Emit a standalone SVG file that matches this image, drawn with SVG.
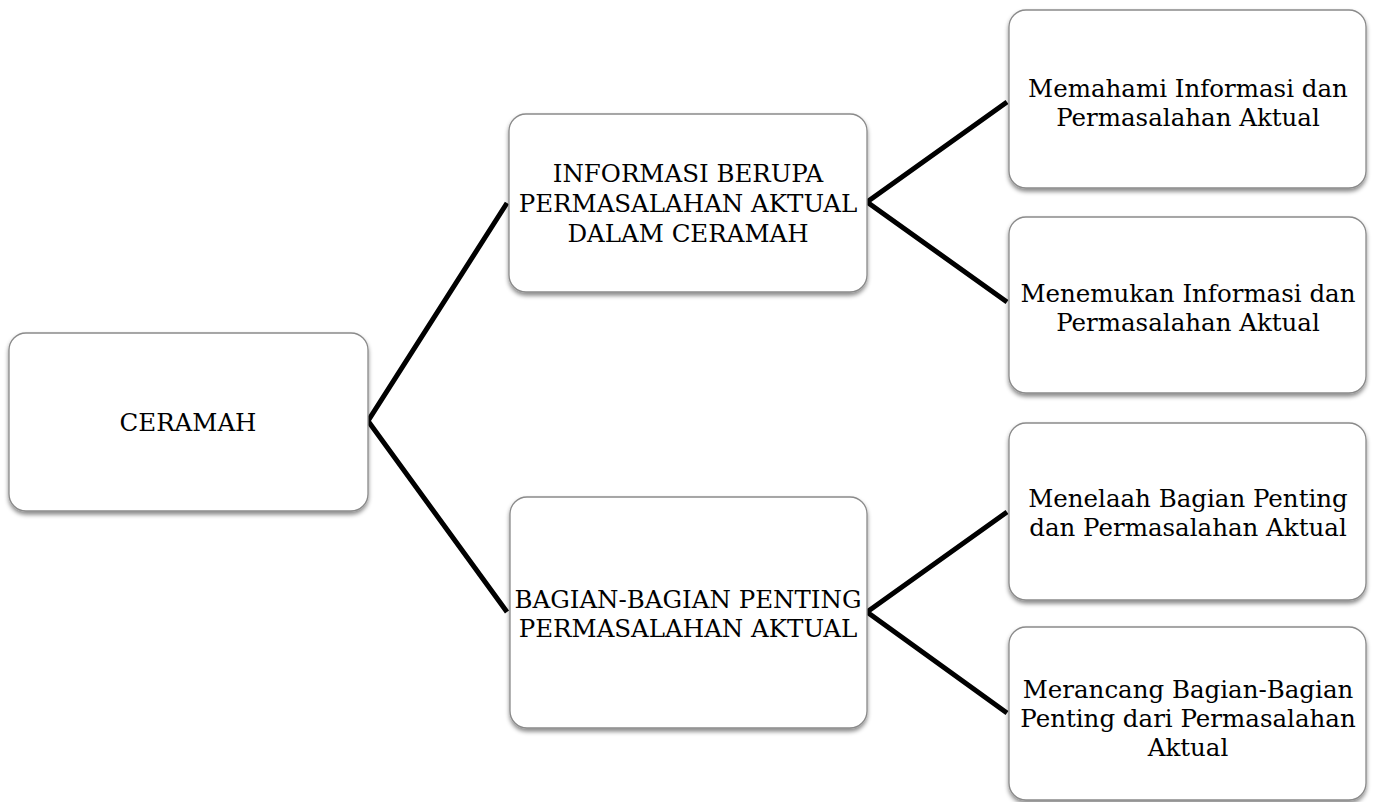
<svg xmlns="http://www.w3.org/2000/svg" width="1375" height="802" viewBox="0 0 1375 802">
<defs>
<filter id="sh" x="-10%" y="-10%" width="120%" height="130%">
<feDropShadow dx="0" dy="3" stdDeviation="2.2" flood-color="#000" flood-opacity="0.45"/>
</filter>
</defs>
<style>
.box{fill:#fff;stroke:#8a8a8a;stroke-width:1.3;filter:url(#sh)}
.t{font-family:"DejaVu Serif","Liberation Serif",serif;font-size:24.5px;fill:#000;text-anchor:middle}
.c{fill:none;stroke:#000;stroke-width:5;stroke-linejoin:miter}
</style>
<rect width="1375" height="802" fill="#fff"/>
<g id="connectors">
<polyline class="c" points="507,203 368,421 507,612"/>
<polyline class="c" points="1007,102 867,202 1007,302"/>
<polyline class="c" points="1007,512 867,612 1007,713"/>
</g>
<g id="n-ceramah">
<rect class="box" x="9" y="333" width="359" height="178" rx="17"/>
<text class="t" x="188" y="431">CERAMAH</text>
</g>
<g id="n-informasi">
<rect class="box" x="509" y="114" width="358" height="178" rx="17"/>
<text class="t" x="688" y="182">INFORMASI BERUPA</text>
<text class="t" x="688" y="212">PERMASALAHAN AKTUAL</text>
<text class="t" x="688" y="242">DALAM CERAMAH</text>
</g>
<g id="n-bagian">
<rect class="box" x="510" y="497" width="357" height="231" rx="17"/>
<text class="t" x="688" y="608">BAGIAN-BAGIAN PENTING</text>
<text class="t" x="688" y="637">PERMASALAHAN AKTUAL</text>
</g>
<g id="n-memahami">
<rect class="box" x="1009" y="10" width="357" height="178" rx="17"/>
<text class="t" x="1188" y="97">Memahami Informasi dan</text>
<text class="t" x="1188" y="126">Permasalahan Aktual</text>
</g>
<g id="n-menemukan">
<rect class="box" x="1009" y="217" width="357" height="176" rx="17"/>
<text class="t" x="1188" y="302">Menemukan Informasi dan</text>
<text class="t" x="1188" y="331">Permasalahan Aktual</text>
</g>
<g id="n-menelaah">
<rect class="box" x="1009" y="423" width="357" height="177" rx="17"/>
<text class="t" x="1188" y="507">Menelaah Bagian Penting</text>
<text class="t" x="1188" y="536">dan Permasalahan Aktual</text>
</g>
<g id="n-merancang">
<rect class="box" x="1009" y="627" width="357" height="173" rx="17"/>
<text class="t" x="1188" y="698">Merancang Bagian-Bagian</text>
<text class="t" x="1188" y="727">Penting dari Permasalahan</text>
<text class="t" x="1188" y="756">Aktual</text>
</g>
</svg>
